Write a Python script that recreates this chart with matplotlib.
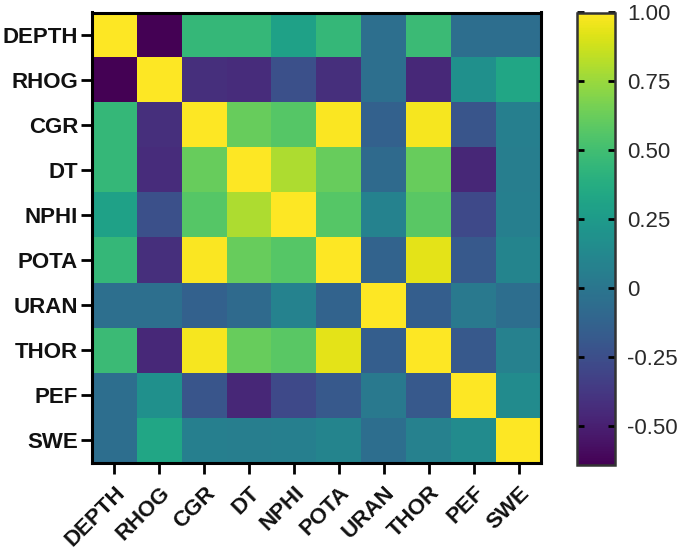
import numpy as np
import matplotlib
matplotlib.use("Agg")
import matplotlib.pyplot as plt

labels = ["DEPTH", "RHOG", "CGR", "DT", "NPHI", "POTA", "URAN", "THOR", "PEF", "SWE"]

row_depth = [1.00, -0.64, 0.45, 0.45, 0.30, 0.45, -0.04, 0.48, -0.05, -0.05]
row_rhog  = [-0.64, 1.00, -0.42, -0.43, -0.24, -0.42, -0.04, -0.45, 0.18, 0.33]
row_cgr   = [0.45, -0.42, 1.00, 0.62, 0.57, 0.99, -0.13, 0.98, -0.21, 0.07]
row_dt    = [0.45, -0.43, 0.62, 1.00, 0.80, 0.62, -0.07, 0.62, -0.46, 0.06]
row_nphi  = [0.30, -0.24, 0.57, 0.80, 1.00, 0.57, 0.09, 0.58, -0.28, 0.07]
row_pota  = [0.45, -0.42, 0.99, 0.62, 0.57, 1.00, -0.12, 0.93, -0.18, 0.10]
row_uran  = [-0.04, -0.04, -0.13, -0.07, 0.09, -0.12, 1.00, -0.15, 0.02, -0.05]
row_thor  = [0.48, -0.45, 0.98, 0.62, 0.58, 0.93, -0.15, 1.00, -0.18, 0.08]
row_pef   = [-0.05, 0.18, -0.21, -0.46, -0.28, -0.18, 0.02, -0.18, 1.00, 0.15]
row_swe   = [-0.05, 0.33, 0.07, 0.06, 0.07, 0.10, -0.05, 0.08, 0.15, 1.00]

cbar_ticks = [1.00, 0.75, 0.50, 0.25, 0, -0.25, -0.50]
cbar_ticklabels = ["1.00", "0.75", "0.50", "0.25", "0", "-0.25", "-0.50"]

data = np.array([row_depth, row_rhog, row_cgr, row_dt, row_nphi,
                 row_pota, row_uran, row_thor, row_pef, row_swe])

plt.rcParams['font.family'] = ['Liberation Sans', 'DejaVu Sans']

fig = plt.figure(figsize=(6.85, 5.51), dpi=100)
ax = fig.add_axes([92/685, 1-463/551, (541-92)/685, (463-12.5)/551])
im = ax.imshow(data, cmap="viridis", vmin=-0.64, vmax=1.0, aspect="auto",
               interpolation="nearest")

ax.set_xticks(range(len(labels)))
ax.set_yticks(range(len(labels)))
ax.set_xticklabels(labels, rotation=45, ha="right", rotation_mode="anchor",
                   fontsize=16, fontweight="bold", color="#111111")
ax.set_yticklabels(labels, fontsize=16, fontweight="bold", color="#111111")
ax.tick_params(axis="both", direction="out", length=8, width=2, pad=2, color="black")
ax.tick_params(axis="x", pad=6)
for s in ax.spines.values():
    s.set_linewidth(2.2)
    s.set_color("black")

cax = fig.add_axes([577/685, 1-465/551, (615-577)/685, (465-12.5)/551])
cb = fig.colorbar(im, cax=cax, ticks=cbar_ticks)
cb.ax.set_yticklabels(cbar_ticklabels, fontsize=16, color="#2a2a2a")
cb.ax.tick_params(direction="in", length=5, width=2, left=True, right=True,
                  pad=9, color="black")
cb.outline.set_linewidth(1.8)
cb.outline.set_edgecolor("#333333")

fig.savefig("out.png", dpi=100)
